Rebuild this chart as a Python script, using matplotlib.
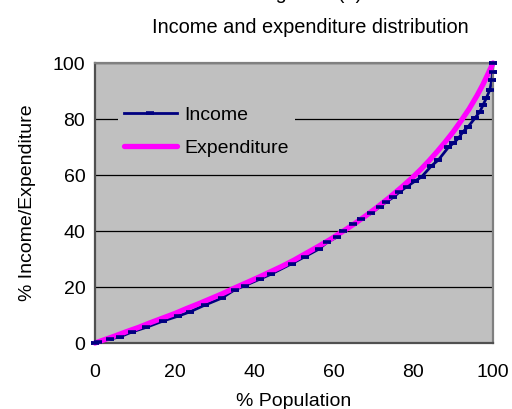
import matplotlib
matplotlib.use('Agg')
import matplotlib.pyplot as plt

plt.rcParams['font.family'] = ['Liberation Sans', 'DejaVu Sans']

# Lorenz-type curves (% population vs % income / expenditure)
income_x = [0, 0.8, 3.7, 6.3, 9.2, 12.9, 17.2, 20.9, 23.8, 27.7, 31.8, 35.1, 37.7, 41.4,
            44.1, 49.4, 52.7, 56.2, 58.4, 60.9, 62.2, 64.9, 66.8, 69.4, 71.6, 73.2, 74.9,
            76.5, 78.3, 80.4, 82.1, 84.5, 86.3, 88.8, 90.0, 91.3, 92.5, 93.8, 95.4, 96.7,
            97.5, 98.3, 99.2, 99.7, 99.9, 100]
income_y = [0, 0.5, 1.4, 2.2, 3.9, 5.6, 7.9, 9.6, 11.1, 13.6, 16.0, 19.0, 20.5, 22.8,
            24.5, 28.3, 30.8, 33.5, 36.0, 37.9, 39.9, 42.5, 44.3, 46.3, 48.7, 50.4, 52.0,
            53.9, 55.8, 57.8, 59.4, 63.2, 65.4, 69.9, 71.3, 73.1, 75.5, 77.3, 80.2, 82.6,
            85.0, 87.4, 90.4, 93.9, 96.9, 100]

expend_x = [0, 2, 5, 8, 11, 14, 17, 20, 23, 26, 29, 32, 35, 38, 41, 44, 47, 50, 53, 56,
            59, 62, 65, 68, 71, 74, 77, 80, 82, 84, 86, 88, 90, 92, 94, 96, 97.5, 98.5,
            99.3, 100]
expend_y = [0, 1.0, 2.5, 4.1, 5.6, 7.3, 8.9, 10.5, 12.3, 14.0, 15.8, 17.6, 19.6, 21.5,
            23.4, 25.4, 27.4, 29.6, 32.0, 34.4, 36.9, 39.6, 42.4, 45.4, 48.6, 52.0, 55.6,
            59.4, 62.2, 65.2, 68.4, 71.8, 75.4, 79.4, 83.6, 88.4, 92.4, 95.4, 97.8, 100]

ticks = [0, 20, 40, 60, 80, 100]

fig = plt.figure(figsize=(5.12, 4.09), dpi=100)
ax = fig.add_axes([95 / 512, 1 - 343 / 409, 398 / 512, 280 / 409])
ax.set_facecolor('#C0C0C0')

# income line sits under the magenta band, its dash markers on top
inc_line, = ax.plot(income_x, income_y, color='#000080', lw=2, marker='_', ms=5.5, mew=2.6,
                    clip_on=False, zorder=2.5)
exp_line, = ax.plot(expend_x, expend_y, color='#FF00FF', lw=3.8, solid_capstyle='round',
                    clip_on=False, zorder=3)
ax.plot(income_x, income_y, ls='none', color='#000080', marker='_', ms=5.5, mew=2.6,
        clip_on=False, zorder=4)

ax.set_xlim(0, 100)
ax.set_ylim(0, 100)
ax.set_xticks(ticks)
ax.set_yticks(ticks)
ax.tick_params(length=0, labelsize=14)
ax.tick_params(axis='x', pad=15)
ax.tick_params(axis='y', pad=7)
ax.yaxis.grid(True, color='black', lw=0.9)
ax.set_axisbelow(True)

for s in ['left', 'bottom']:
    ax.spines[s].set_color('#505050')
    ax.spines[s].set_linewidth(1.6)
for s in ['top', 'right']:
    ax.spines[s].set_color('#808080')
    ax.spines[s].set_linewidth(1.6)

ax.set_xlabel('% Population', fontsize=14, labelpad=9)
ax.set_ylabel('% Income/Expenditure', fontsize=14, labelpad=12)

leg = ax.legend([inc_line, exp_line], ['Income', 'Expenditure'], loc='center',
                bbox_to_anchor=(0.28, 0.754), fontsize=14, frameon=True,
                facecolor='#C0C0C0', edgecolor='none', framealpha=1,
                handlelength=2.7, handletextpad=0.4, labelspacing=0.8,
                borderpad=0.3, fancybox=False)
leg.set_zorder(5)

fig.text(0.607, 1 + 1 / 409, 'Figure 3 (a)', fontsize=14.4, ha='center', va='baseline')
fig.text(0.607, 1 - 33 / 409, 'Income and expenditure distribution', fontsize=14.4,
         ha='center', va='baseline')

fig.savefig('out.png', dpi=100)
